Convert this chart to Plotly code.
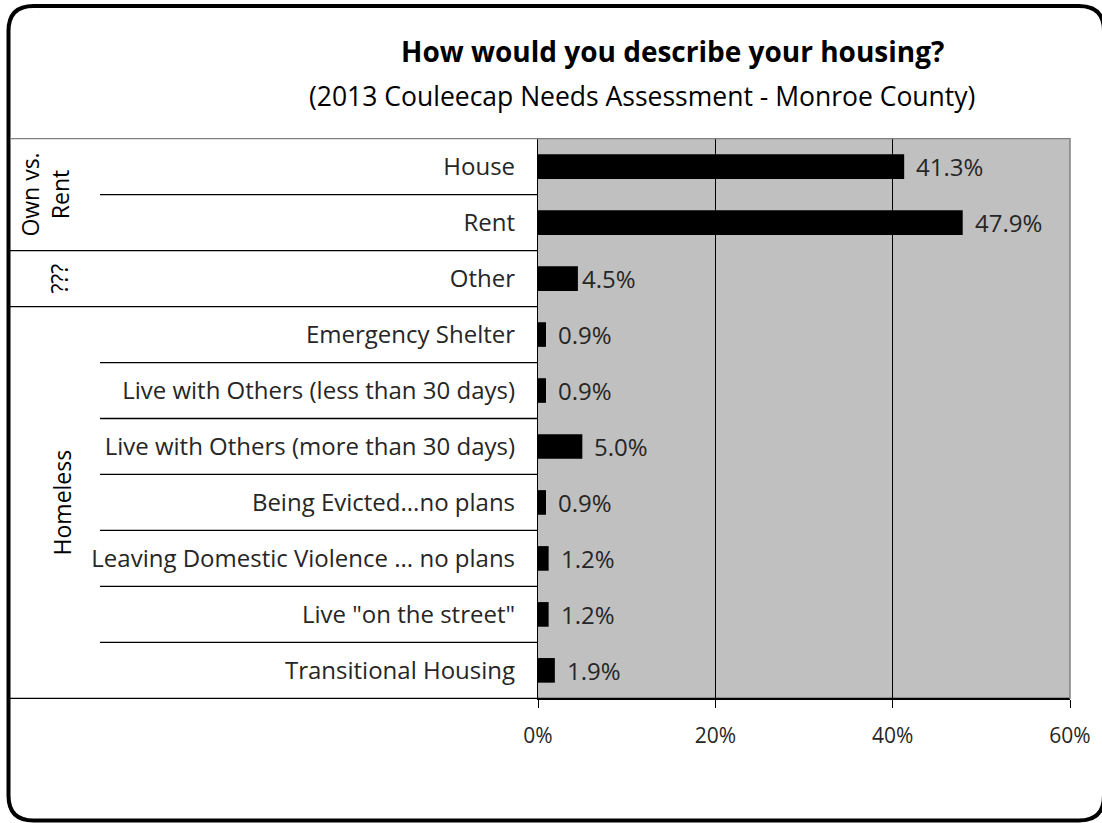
import plotly.graph_objects as go

categories = ["House", "Rent", "Other", "Emergency Shelter",
              "Live with Others (less than 30 days)",
              "Live with Others (more than 30 days)",
              "Being Evicted...no plans",
              "Leaving Domestic Violence ... no plans",
              "Live \"on the street\"", "Transitional Housing"]
values = [41.3, 47.9, 4.5, 0.9, 0.9, 5.0, 0.9, 1.2, 1.2, 1.9]
groups = [("Own vs.<br>Rent", 0, 1), ("???", 2, 2), ("Homeless", 3, 9)]
x_ticks = [0, 20, 40, 60]
x_tick_labels = ["0%", "20%", "40%", "60%"]

W, H = 1102, 823
FONT = "Open Sans"
px = lambda v: v / W
py = lambda v: 1 - v / H

x0p, x1p = 538, 1070
y0p, y1p = 138, 699

fig = go.Figure()
fig.add_trace(go.Bar(
    y=categories, x=values, orientation="h",
    marker=dict(color="black", line=dict(width=0)),
    width=0.44, hoverinfo="x+y",
))

for i, (c, v) in enumerate(zip(categories, values)):
    fig.add_annotation(x=v, y=c, xref="x", yref="y", text=f"{v:.1f}%",
                       showarrow=False, xanchor="left", yanchor="middle",
                       xshift=2 if c == "Other" else 10,
                       font=dict(family=FONT, size=24, color="#262626"))

shapes = []
# outer rounded border
r = 25
L, T, R, B = 8.5, 6, 1104, 820.5
path = (f"M {L+r},{T} L {R-r},{T} Q {R},{T} {R},{T+r} L {R},{B-r} Q {R},{B} {R-r},{B} "
        f"L {L+r},{B} Q {L},{B} {L},{B-r} L {L},{T+r} Q {L},{T} {L+r},{T} Z")
def conv(p):
    out = []
    for tok in p.split(" "):
        if "," in tok:
            a, b = tok.split(",")
            out.append(f"{px(float(a))},{py(float(b))}")
        else:
            out.append(tok)
    return " ".join(out)
shapes.append(dict(type="path", xref="paper", yref="paper", path=conv(path),
                   line=dict(color="black", width=4), layer="above"))

# row separators in label area
n = len(categories)
group_bounds = set()
for g, a, b in groups:
    group_bounds.add(a - 0.5)
    group_bounds.add(b + 0.5)
for k in range(n + 1):
    yb = k - 0.5
    xs = px(L + 1.5) if yb in group_bounds else px(100)
    col = "#808080" if k == 0 else "black"
    xe = px(x1p) if k in (0, n) else px(x0p)
    shapes.append(dict(type="line", xref="paper", yref="y", x0=xs, x1=xe,
                       y0=yb, y1=yb, line=dict(color=col, width=1.3), layer="above"))
shapes.append(dict(type="line", xref="paper", yref="paper", x0=px(x1p), x1=px(x1p),
                   y0=py(y0p), y1=py(y1p), line=dict(color="#808080", width=1.5), layer="above"))
fig.update_layout(shapes=shapes)

group_x = {"???": 59, "Homeless": 62}
for g, a, b in groups:
    fig.add_annotation(x=px(group_x.get(g, 45)), y=(a + b) / 2,
                       xref="paper", yref="y", text=g, textangle=-90, showarrow=False,
                       xanchor="center", yanchor="middle",
                       font=dict(family=FONT, size=23, color="black"))

fig.add_annotation(x=px(672), y=py(51), xref="paper", yref="paper",
                   xanchor="center", yanchor="middle",
                   text="<b>How would you describe your housing?</b>", showarrow=False,
                   font=dict(family=FONT, size=28, color="black"))
fig.add_annotation(x=px(642), y=py(96), xref="paper", yref="paper",
                   xanchor="center", yanchor="middle",
                   text="(2013 Couleecap Needs Assessment - Monroe County)", showarrow=False,
                   font=dict(family=FONT, size=26.5, color="black"))

fig.update_layout(
    width=W, height=H, margin=dict(l=0, r=0, t=0, b=0, autoexpand=False),
    autosize=False,
    paper_bgcolor="white", plot_bgcolor="#C0C0C0",
    showlegend=False, bargap=0.56,
    xaxis=dict(domain=[px(x0p), px(x1p)], range=[0, 60], tickvals=x_ticks,
               ticktext=x_tick_labels, showgrid=True, gridcolor="black", gridwidth=1,
               zeroline=False, showline=True, linecolor="black", linewidth=1.3,
               ticks="outside", ticklen=8, tickcolor="black", automargin=False,
               ticklabelstandoff=10,
               tickfont=dict(family=FONT, size=21, color="#262626")),
    yaxis=dict(domain=[py(y1p), py(y0p)], autorange="reversed", type="category",
               showgrid=False, zeroline=False, showline=True, linecolor="black",
               linewidth=1.3, ticks="", ticklabelstandoff=17, automargin=False,
               tickfont=dict(family=FONT, size=24, color="#262626")),
)

fig.write_html("out.html")
